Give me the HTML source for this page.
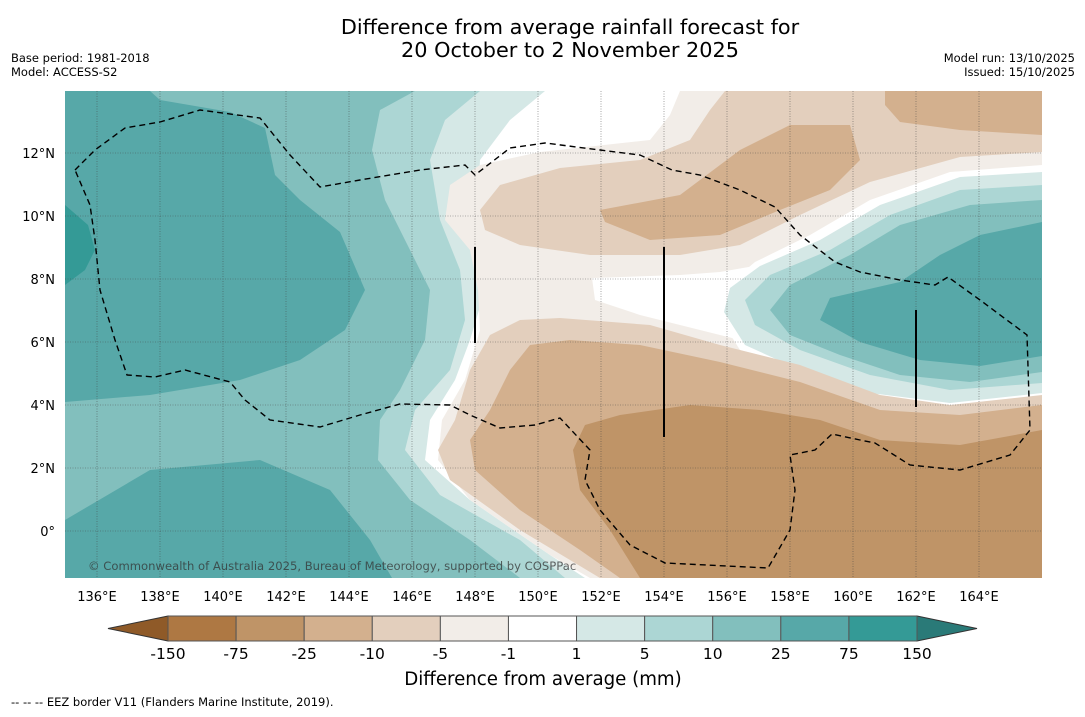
<!DOCTYPE html>
<html><head><meta charset="utf-8"><style>
body{margin:0;background:#fff;width:1085px;height:713px;overflow:hidden;font-family:"DejaVu Sans","Liberation Sans",sans-serif;}
svg text{font-family:"DejaVu Sans","Liberation Sans",sans-serif;}
</style></head><body>
<svg id="s" width="1085" height="713" xmlns="http://www.w3.org/2000/svg">
<text x="570" y="34" font-size="20.8" text-anchor="middle">Difference from average rainfall forecast for</text>
<text x="570" y="57" font-size="20.8" text-anchor="middle">20 October to 2 November 2025</text>
<text x="11" y="62" font-size="11.5">Base period: 1981-2018</text>
<text x="11" y="76" font-size="11.5">Model: ACCESS-S2</text>
<text x="1075" y="62" font-size="11.5" text-anchor="end">Model run: 13/10/2025</text>
<text x="1075" y="76" font-size="11.5" text-anchor="end">Issued: 15/10/2025</text>
<defs><clipPath id="pc"><rect x="65" y="91" width="977" height="487"/></clipPath></defs>
<g id="map" clip-path="url(#pc)">
<rect x="65" y="91" width="977" height="487" fill="#ffffff"/>
<polygon fill="#d5e8e6" points="65,91 545,91 510,120 480,160 478,200 490,260 482,300 470,340 455,380 430,420 425,460 470,500 550,555 585,578 65,578"/>
<polygon fill="#acd6d4" points="65,91 480,91 445,120 430,160 440,220 460,270 465,320 450,370 415,410 405,450 440,495 520,540 565,578 65,578"/>
<polygon fill="#82bfbd" points="65,91 415,91 380,110 372,150 385,200 410,250 430,290 425,340 400,390 380,420 378,460 410,500 470,540 520,578 65,578"/>
<polygon fill="#57a8a8" points="65,91 150,91 160,100 230,112 265,128 275,175 300,200 340,232 365,290 345,330 300,360 240,380 150,395 65,402"/>
<polygon fill="#57a8a8" points="65,520 150,470 260,460 330,490 370,540 392,578 65,578"/>
<polygon fill="#349a96" points="65,205 88,225 95,250 85,270 65,285"/>
<polygon fill="#f2ede8" points="680,91 1042,91 1042,578 590,578 550,555 470,500 438,460 442,420 465,380 480,330 478,290 470,250 445,220 450,185 480,165 540,152 650,140 670,115"/>
<polygon fill="#ffffff" points="592,278 680,275 720,272 760,265 725,300 740,340 700,330 640,315 595,300"/>
<polygon fill="#ffffff" points="1042,165 950,172 870,200 810,235 755,262 722,290 718,315 740,350 800,378 870,402 950,412 1042,402"/>
<polygon fill="#d5e8e6" points="1042,172 960,177 880,205 820,240 760,266 730,288 724,312 745,345 800,370 870,393 950,403 1042,393"/>
<polygon fill="#acd6d4" points="1042,185 960,190 890,215 830,250 770,275 745,300 755,325 800,350 870,375 950,390 1042,383"/>
<polygon fill="#82bfbd" points="1042,200 970,205 900,225 850,255 790,285 770,310 790,335 840,355 900,375 970,382 1042,372"/>
<polygon fill="#57a8a8" points="1042,222 980,235 940,255 900,282 830,298 820,320 860,342 920,360 980,366 1042,356"/>
<polygon fill="#e3cfbd" points="725,91 1042,91 1042,152 960,157 870,182 800,215 740,245 680,255 590,255 520,245 485,230 480,210 500,185 560,168 640,160 690,140 710,110"/>
<polygon fill="#d3b08e" points="600,210 680,195 740,150 790,125 850,125 860,160 830,190 780,210 720,235 650,240 605,222"/>
<polygon fill="#d3b08e" points="885,91 1042,91 1042,135 960,130 900,122 885,105"/>
<polygon fill="#e3cfbd" points="1042,395 950,405 880,395 800,365 720,345 650,325 560,318 520,320 490,335 470,370 455,420 438,450 450,480 520,530 600,578 1042,578"/>
<polygon fill="#d3b08e" points="1042,405 960,415 880,410 800,382 720,362 640,345 570,340 530,345 510,370 490,410 470,440 475,470 520,510 580,550 620,578 1042,578"/>
<polygon fill="#bf9467" points="1042,430 960,445 880,440 820,420 760,410 690,405 620,415 585,425 573,450 580,490 610,530 640,578 1042,578"/>
<g id="grid"></g>
<polyline fill="none" stroke="#000" stroke-width="1.4" stroke-dasharray="6,4" points="75,170 95,150 125,128 160,122 200,110 260,118 290,155 320,187 360,180 420,170 465,165 475,175 510,148 545,143 600,150 640,155 672,170 700,175 740,190 775,207 800,235 835,262 860,272 900,280 935,285 948,277 980,300 1027,335 1030,430 1010,455 960,470 910,465 875,443 860,440 832,434 815,450 790,455 795,490 790,530 768,568 665,563 630,545 600,510 585,480 590,450 560,418 535,425 500,428 470,415 450,405 400,404 360,415 320,427 270,420 245,400 230,382 185,370 155,377 127,375 115,340 100,290 95,240 90,205 75,170"/>
<line x1="475" y1="247" x2="475" y2="343" stroke="#000" stroke-width="2"/>
<line x1="664" y1="247" x2="664" y2="437" stroke="#000" stroke-width="2"/>
<line x1="916" y1="310" x2="916" y2="407" stroke="#000" stroke-width="2"/>
<text x="88" y="570" font-size="11.6" fill="#333" fill-opacity="0.75">© Commonwealth of Australia 2025, Bureau of Meteorology, supported by COSPPac</text>
</g>
<g id="axes"></g>
<g id="cbar"></g>
<text x="543" y="685" font-size="18.2" text-anchor="middle">Difference from average (mm)</text>
<text x="11" y="706" font-size="11.5">--  --  -- EEZ border V11 (Flanders Marine Institute, 2019).</text>
</svg>
<script>
const lonTicks=[136,138,140,142,144,146,148,150,152,154,156,158,160,162,164];
const latTicks=[0,2,4,6,8,10,12];
const levels=[-150,-75,-25,-10,-5,-1,1,5,10,25,75,150];
const levelColors=["#ae7843","#bf9467","#d3b08e","#e3cfbd","#f2ede8","#ffffff","#d5e8e6","#acd6d4","#82bfbd","#57a8a8","#349a96"];
const NS="http://www.w3.org/2000/svg";
const xLon=l=>97+(l-136)*31.5, yLat=l=>531-l*31.5;
function mk(t,a,p){const e=document.createElementNS(NS,t);for(const k in a)e.setAttribute(k,a[k]);p.appendChild(e);return e;}
const grid=document.getElementById('grid'),axes=document.getElementById('axes');
lonTicks.forEach(l=>{
 const g=mk('line',{x1:xLon(l),x2:xLon(l),y1:91,y2:578,stroke:'#444','stroke-width':0.6,'stroke-dasharray':'1,1.5','stroke-opacity':0.8},grid);
 
 
 const t=mk('text',{x:xLon(l),y:601,'font-size':13,'text-anchor':'middle'},axes);t.textContent=l+'°E';
 
 
});
latTicks.forEach(l=>{
 const g=mk('line',{x1:65,x2:1042,y1:yLat(l),y2:yLat(l),stroke:'#444','stroke-width':0.6,'stroke-dasharray':'1,1.5','stroke-opacity':0.8},grid);
 
 
 const t=mk('text',{x:55,y:yLat(l)+5,'font-size':13,'text-anchor':'end'},axes);t.textContent=l===0?'0°':l+'°N';
 
 
});
const cb=document.getElementById('cbar');const x0=168,x1=917,y0=616,y1=641,w=(x1-x0)/levelColors.length;
const lt=mk('polygon',{points:`108,628.5 ${x0},${y0} ${x0},${y1}`,fill:'#8f5a28',stroke:'#333','stroke-width':1},cb);


const rt=mk('polygon',{points:`977,628.5 ${x1},${y0} ${x1},${y1}`,fill:'#2a7a78',stroke:'#333','stroke-width':1},cb);


levelColors.forEach((c,i)=>{const r=mk('rect',{x:x0+i*w,y:y0,width:w,height:y1-y0,fill:c,stroke:'#555','stroke-width':1},cb);
 
 });
levels.forEach((v,i)=>{const t=mk('text',{x:x0+i*w,y:659,'font-size':15.5,'text-anchor':'middle'},cb);t.textContent=v;
 
 });
</script>
</body></html>
